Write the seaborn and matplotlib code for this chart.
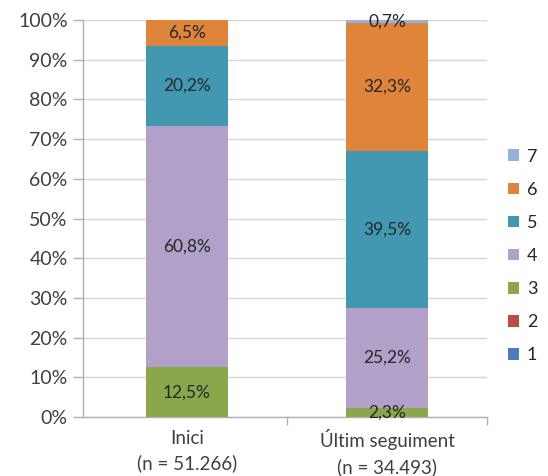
import matplotlib
matplotlib.use("Agg")
import matplotlib.pyplot as plt
import seaborn as sns
import pandas as pd
import numpy as np
from matplotlib.patches import Patch
from matplotlib.ticker import FixedLocator

categories = ["Inici\n(n = 51.266)", "Últim seguiment\n(n = 34.493)"]
levels = ["1", "2", "3", "4", "5", "6", "7"]
inici = [0.0, 0.0, 12.5, 60.8, 20.2, 6.5, 0.0]
ultim = [0.0, 0.0, 2.3, 25.2, 39.5, 32.3, 0.7]
colors = ["#4A7EBB", "#BE4B48", "#8AA84B", "#B1A0C7", "#4298B0", "#DE853B", "#95B3D7"]
yticks = [0, 10, 20, 30, 40, 50, 60, 70, 80, 90, 100]

sns.set_theme(style="white")
plt.rcParams['font.family'] = ['Lato', 'DejaVu Sans']

fig = plt.figure(figsize=(5.48, 4.76), dpi=100)
ax = fig.add_axes([83/548, 1-417/476, (487-83)/548, (417-20)/476])

data = np.array([inici, ultim])
cum = data.cumsum(axis=1)
for k in reversed(range(len(levels))):
    df = pd.DataFrame({"cat": categories, "val": cum[:, k]})
    sns.barplot(data=df, x="cat", y="val", color=colors[k], width=0.41, ax=ax,
                linewidth=0, saturation=1, order=categories, errorbar=None, zorder=2)

for i in range(len(categories)):
    for k in range(len(levels)):
        v = data[i, k]
        if v > 0:
            ax.text(i, cum[i, k] - v/2, f"{v:.1f}%".replace(".", ","), ha="center", va="center",
                    fontsize=12.5, color="#262626", zorder=5)

ax.set_ylim(0, 100)
ax.set_xlim(-0.52, 1.5)
ax.set_yticks(yticks)
ax.set_yticklabels([f"{t}%" for t in yticks])
ax.yaxis.grid(True, color="#D6D6D6", lw=1)
ax.set_axisbelow(True)
ax.set_xlabel("")
ax.set_ylabel("")
ax.tick_params(axis="y", which="major", left=True, length=7, width=1, color="#B0B0B0",
               labelsize=14, labelcolor="#404040", pad=4)
ax.tick_params(axis="x", which="major", bottom=False, length=0, labelsize=13.5,
               labelcolor="#404040", pad=9)
ax.xaxis.set_minor_locator(FixedLocator([0.5, 1.5]))
ax.tick_params(axis="x", which="minor", bottom=True, length=6, width=1, color="#B0B0B0")
for lbl in ax.get_xticklabels():
    lbl.set_linespacing(1.5)
for s in ["top", "right"]:
    ax.spines[s].set_visible(False)
for s in ["left", "bottom"]:
    ax.spines[s].set_color("#B0B0B0")
    ax.spines[s].set_linewidth(1)

handles = [Patch(facecolor=colors[k], edgecolor="none", label=levels[k]) for k in reversed(range(len(levels)))]
fig.legend(handles=handles, loc="center left", bbox_to_anchor=(508/548, 1-256/476),
           frameon=False, fontsize=13, handlelength=0.6, handleheight=0.6,
           handletextpad=0.45, labelspacing=0.95, borderpad=0, borderaxespad=0,
           labelcolor="#262626")

fig.savefig("out.png", dpi=100)
